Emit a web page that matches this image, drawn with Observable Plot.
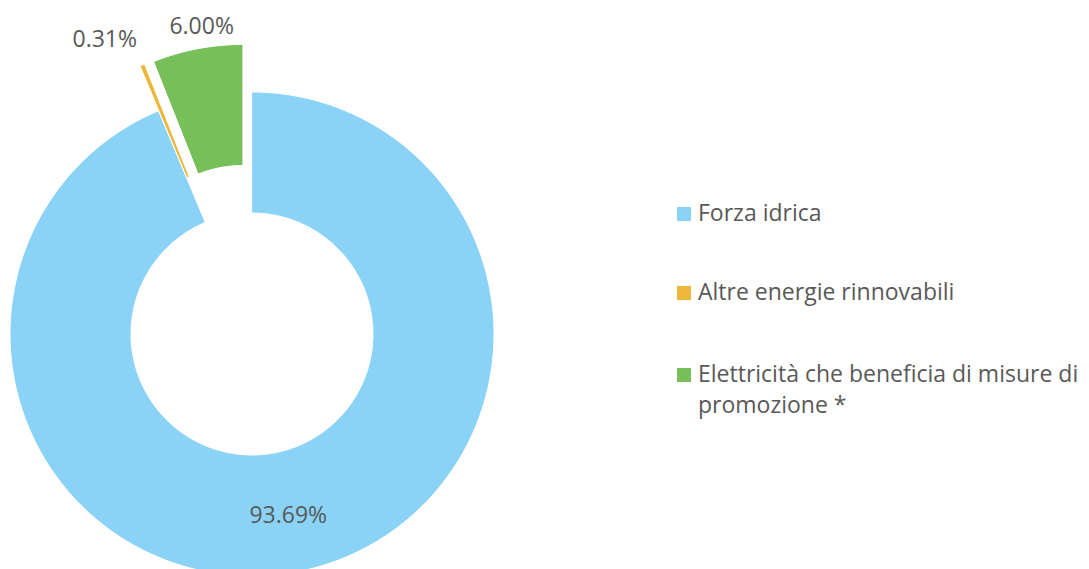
<!DOCTYPE html>
<html><head><meta charset="utf-8">
<script src="https://cdn.jsdelivr.net/npm/d3@7"></script>
<script src="https://cdn.jsdelivr.net/npm/@observablehq/plot@0.6"></script>
<style>
body{margin:0;background:#fff;font-family:"Open Sans",sans-serif;}
#wrap{position:relative;width:1089px;height:569px;overflow:hidden;}
#legend{position:absolute;left:677px;top:197px;color:#595959;font-size:23px;line-height:31px;}
.item{position:relative;padding-left:21px;white-space:pre;}
.sw{position:absolute;left:0;top:10px;width:14px;height:14px;}
</style></head><body><div id="wrap"></div>
<script>
const categories = ["Forza idrica", "Altre energie rinnovabili", "Elettricità che beneficia di misure di promozione *"];
const values = [93.69, 0.31, 6.00];
const valueLabels = ["93.69%", "0.31%", "6.00%"];
const colors = ["#8AD3F7", "#EDB83A", "#76BF59"];
const explode = [0, 0.2, 0.2];

// layout (pixels)
const W = 1089, H = 569, CX = 252, CY = 334, R = 242, INNER = 0.5;

const total = d3.sum(values);
let acc = 0;
const slices = values.map((v, i) => {
  const a0 = acc / total * 2 * Math.PI;
  acc += v;
  const a1 = acc / total * 2 * Math.PI;
  const mid = (a0 + a1) / 2;
  return {i, cat: categories[i], value: v, label: valueLabels[i], a0, a1, mid,
          ox: explode[i] * Math.sin(mid), oy: explode[i] * Math.cos(mid)};
});

const ring = [];
for (const s of slices) {
  const n = Math.max(4, Math.ceil((s.a1 - s.a0) / (2 * Math.PI) * 400));
  for (let k = 0; k <= n; k++) {
    const a = s.a0 + (s.a1 - s.a0) * k / n;
    ring.push({cat: s.cat,
      xo: s.ox + Math.sin(a), yo: s.oy + Math.cos(a),
      xi: s.ox + INNER * Math.sin(a), yi: s.oy + INNER * Math.cos(a)});
  }
}

const ringMid = (1 + INNER) / 2;
const inside = slices.filter(s => explode[s.i] === 0).map(s => ({...s,
  x: ringMid * Math.sin(s.mid), y: ringMid * Math.cos(s.mid)}));
const outR = s => 1 + explode[s.i] + 0.12;
const outside = slices.filter(s => explode[s.i] > 0).map(s => ({...s,
  x: outR(s) * Math.sin(s.mid), y: outR(s) * Math.cos(s.mid)}));

const color = {domain: categories, range: colors};
const txt = {fill: "#595959", fontSize: 23, fontFamily: "Open Sans"};

const chart = Plot.plot({
  width: W, height: H, margin: 0,
  x: {domain: [-CX / R, (W - CX) / R], axis: null},
  y: {domain: [-(H - CY) / R, CY / R], axis: null},
  color,
  style: {background: "transparent", overflow: "hidden"},
  marks: [
    Plot.area(ring, {x1: "xo", y1: "yo", x2: "xi", y2: "yi", z: "cat", fill: "cat",
      stroke: "white", strokeWidth: 1, curve: "linear"}),
    Plot.text(inside, {x: "x", y: "y", text: "label", ...txt, dy: 3}),
    Plot.text(outside.filter(s => s.i === 1), {x: "x", y: "y", text: "label", ...txt, textAnchor: "end", dx: 5, dy: 1}),
    Plot.text(outside.filter(s => s.i === 2), {x: "x", y: "y", text: "label", ...txt, textAnchor: "middle", dx: 9, dy: 6})
  ]
});
const wrap = document.getElementById("wrap");
wrap.appendChild(chart);

const legend = document.createElement("div");
legend.id = "legend";
const gaps = [48, 51, 0];
categories.forEach((c, i) => {
  const it = document.createElement("div");
  it.className = "item";
  it.style.marginBottom = gaps[i] + "px";
  const sw = document.createElement("span");
  sw.className = "sw";
  sw.style.background = colors[i];
  it.appendChild(sw);
  it.appendChild(document.createTextNode(c.replace(" promozione", "\npromozione")));
  legend.appendChild(it);
});
wrap.appendChild(legend);
</script>
</body></html>
